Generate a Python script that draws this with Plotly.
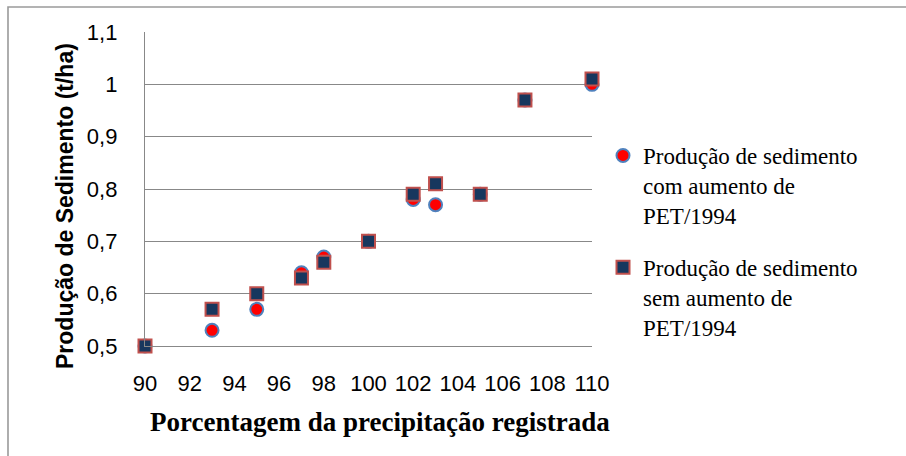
import plotly.graph_objects as go

# Porcentagem da precipitação registrada (%)
precipitacao = [90, 93, 95, 97, 98, 100, 102, 103, 105, 107, 110]

# Produção de sedimento (t/ha)
com_aumento_pet = [0.50, 0.53, 0.57, 0.64, 0.67, 0.70, 0.78, 0.77, 0.79, 0.97, 1.00]
sem_aumento_pet = [0.50, 0.57, 0.60, 0.63, 0.66, 0.70, 0.79, 0.81, 0.79, 0.97, 1.01]

nome_com = "Produção de sedimento<br>com aumento de<br>PET/1994"
nome_sem = "Produção de sedimento<br>sem aumento de<br>PET/1994"

x_ticks = list(range(90, 111, 2))
y_ticks = [0.5, 0.6, 0.7, 0.8, 0.9, 1.0, 1.1]
y_tick_text = ["0,5", "0,6", "0,7", "0,8", "0,9", "1", "1,1"]

W, H = 906, 456
ML, MR, MT, MB = 145, 314, 32, 110
PW, PH = W - ML - MR, H - MT - MB

fig = go.Figure()
fig.add_trace(go.Scatter(
    x=precipitacao, y=com_aumento_pet, mode="markers", name=nome_com,
    legendgroup="com", cliponaxis=False,
    marker=dict(symbol="circle", size=13, color="#FF0000",
                line=dict(color="#4F81BD", width=2)),
))
fig.add_trace(go.Scatter(
    x=precipitacao, y=sem_aumento_pet, mode="markers", name=nome_sem,
    legendgroup="sem", cliponaxis=False,
    marker=dict(symbol="square", size=13, color="#17375E",
                line=dict(color="#C0504D", width=2)),
))

grid = "#888888"
tick_font = dict(family="Liberation Sans", size=22, color="black")
fig.update_layout(
    width=W, height=H,
    margin=dict(l=ML, r=MR, t=MT, b=MB),
    paper_bgcolor="white", plot_bgcolor="white",
    xaxis=dict(
        range=[90, 110], tickvals=x_ticks, showgrid=False, zeroline=False,
        showline=True, linecolor=grid, linewidth=1.4,
        ticks="outside", ticklen=17, tickcolor="rgba(0,0,0,0)",
        tickfont=tick_font,
    ),
    yaxis=dict(
        range=[0.5, 1.1], tickvals=y_ticks, ticktext=y_tick_text,
        showgrid=True, gridcolor=grid, gridwidth=1.4, zeroline=False,
        showline=True, linecolor=grid, linewidth=1.4,
        ticks="outside", ticklen=22, tickcolor="rgba(0,0,0,0)",
        tickfont=tick_font,
    ),
    legend=dict(
        x=(603 - ML) / PW, xanchor="left", y=1 - (134 - MT) / PH, yanchor="top",
        valign="top", traceorder="grouped", tracegroupgap=19,
        bgcolor="rgba(0,0,0,0)",
        font=dict(family="Liberation Serif", size=23, color="black"),
    ),
    showlegend=True,
)

# axis titles
fig.add_annotation(
    text="<b>Porcentagem da precipitação registrada</b>",
    xref="paper", yref="paper", x=(380 - ML) / PW, y=-(422 - MT - PH) / PH,
    xanchor="center", yanchor="middle", showarrow=False,
    font=dict(family="Liberation Serif", size=27, color="black"),
)
fig.add_annotation(
    text="<b>Produção de Sedimento (t/ha)</b>",
    xref="paper", yref="paper", x=-(ML - 65) / PW, y=(MT + PH - 206) / PH,
    xanchor="center", yanchor="middle", showarrow=False, textangle=-90,
    font=dict(family="Liberation Sans", size=23, color="black"),
)

# outer frame
fig.add_shape(
    type="rect", xref="paper", yref="paper", layer="below",
    x0=(8 - ML) / PW, x1=(W + 10 - ML) / PW,
    y0=-(H + 10 - MT - PH) / PH, y1=(MT + PH - 7) / PH,
    line=dict(color="#9A9A9A", width=1.6),
)

fig.write_html("out.html")
